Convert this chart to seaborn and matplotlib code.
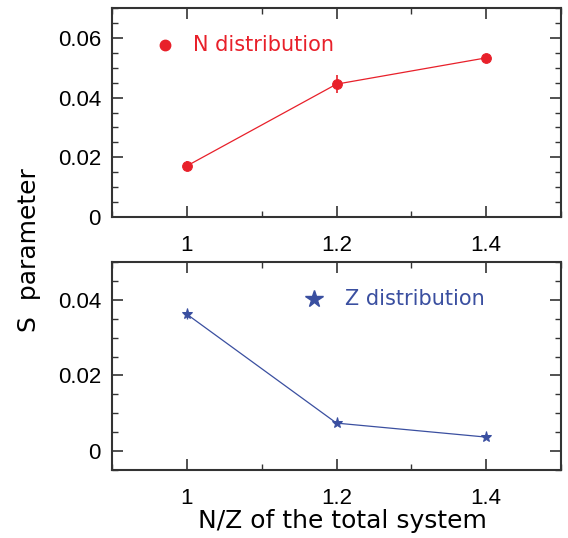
import numpy as np
import pandas as pd
import matplotlib
matplotlib.use('Agg')
import matplotlib.pyplot as plt
import seaborn as sns
from matplotlib.ticker import MultipleLocator, FixedLocator

nz_ratio = [1.0, 1.2, 1.4]
s_neutron = [0.0171, 0.0445, 0.0533]
s_neutron_err = [0.0018, 0.003, 0.0008]
s_proton = [0.0362, 0.0074, 0.0037]
s_proton_err = [0.0012, 0.0004, 0.0003]

red = '#e8202a'
blue = '#3a4fa0'

sns.set_theme(style='ticks')
plt.rcParams['font.family'] = ['DejaVu Sans']

df_n = pd.DataFrame({'nz': nz_ratio, 's': s_neutron})
df_z = pd.DataFrame({'nz': nz_ratio, 's': s_proton})

fig = plt.figure(figsize=(5.68, 5.38), dpi=100)
ax1 = fig.add_axes([112/568, 1-217/538, 449/568, 209/538])
ax2 = fig.add_axes([112/568, 1-470/538, 449/568, 208/538])

sns.lineplot(data=df_n, x='nz', y='s', ax=ax1, color=red, lw=0.9,
             marker='o', markersize=7, markeredgecolor=red)
ax1.errorbar(nz_ratio, s_neutron, yerr=s_neutron_err, fmt='none',
             ecolor=red, elinewidth=1.2, capsize=0)
sns.lineplot(data=df_z, x='nz', y='s', ax=ax2, color=blue, lw=0.9,
             marker='*', markersize=8, markeredgecolor=blue)
ax2.errorbar(nz_ratio, s_proton, yerr=s_proton_err, fmt='none',
             ecolor=blue, elinewidth=1.0, capsize=0)

ax1.set_xlim(0.9, 1.5)
ax1.set_ylim(0, 0.07)
ax2.set_xlim(0.9, 1.5)
ax2.set_ylim(-0.005, 0.05)

ax1.yaxis.set_major_locator(FixedLocator([0, 0.02, 0.04, 0.06]))
ax1.yaxis.set_minor_locator(MultipleLocator(0.005))
ax2.yaxis.set_major_locator(FixedLocator([0, 0.02, 0.04]))
ax2.yaxis.set_minor_locator(MultipleLocator(0.005))
for ax in (ax1, ax2):
    ax.xaxis.set_major_locator(FixedLocator([1.0, 1.2, 1.4]))
    ax.xaxis.set_minor_locator(MultipleLocator(0.1))
    ax.set_xticklabels(['1', '1.2', '1.4'])
    ax.tick_params(which='both', direction='in', top=True, right=True,
                   labelsize=16, color='#333333', labelcolor='black')
    ax.tick_params(which='major', length=8, width=1.2)
    ax.tick_params(axis='x', which='major', pad=13)
    ax.tick_params(axis='y', which='major', pad=8)
    ax.tick_params(which='minor', length=4, width=1.0)
    for lab in ax.get_xticklabels():
        lab.set_family('Liberation Sans')
    for sp in ax.spines.values():
        sp.set_linewidth(1.5)
        sp.set_color('#333333')
    ax.set_xlabel('')
    ax.set_ylabel('')

ax1.set_yticklabels(['0', '0.02', '0.04', '0.06'], family='Liberation Sans')
ax2.set_yticklabels(['0', '0.02', '0.04'], family='Liberation Sans')

ax1.plot([0.971], [0.0576], marker='o', markersize=7.5, color=red)
ax1.text(1.008, 0.0576, 'N distribution', color=red, fontsize=15,
         va='center', ha='left')
ax2.plot([1.17], [0.0403], marker='*', markersize=13, color=blue)
ax2.text(1.211, 0.0403, 'Z distribution', color=blue, fontsize=15,
         va='center', ha='left')

fig.text(29/568, 1-250/538, 'S  parameter', rotation=90, fontsize=18,
         ha='center', va='center', color='black')
fig.text(342/568, 1-521/538, 'N/Z of the total system', fontsize=18,
         ha='center', va='center', color='black')

fig.savefig('out.png', dpi=100)
